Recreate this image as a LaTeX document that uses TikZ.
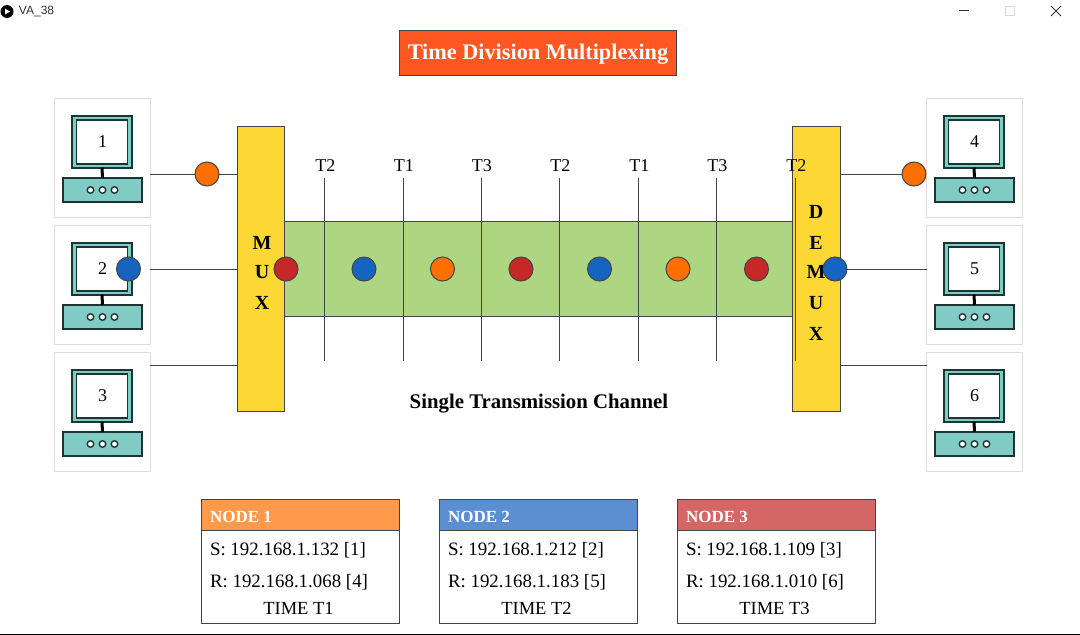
\documentclass[tikz,border=0pt]{standalone}
\usepackage{fontspec}
\setmainfont{Liberation Serif}
\newfontfamily\uifont{Liberation Sans}
\definecolor{cardline}{HTML}{DDDDDD}
\definecolor{teal}{HTML}{80CBC4}
\definecolor{pcline}{HTML}{1B3535}
\definecolor{muxy}{HTML}{FDD835}
\definecolor{chan}{HTML}{AED581}
\definecolor{sigO}{HTML}{FF6F00}
\definecolor{sigB}{HTML}{1565C0}
\definecolor{sigR}{HTML}{C62828}
\definecolor{headO}{HTML}{FF9A4D}
\definecolor{headB}{HTML}{5C8FD2}
\definecolor{headR}{HTML}{D46666}
\definecolor{titleO}{HTML}{FF5722}
\definecolor{edge}{HTML}{444444}
\tikzset{
  x=1pt,y=-1pt,
  every node/.style={inner sep=0pt,outer sep=0pt},
  cardbox/.style={draw=cardline,line width=1pt,fill=white,minimum width=95.5pt,minimum height=118.5pt},
  monitor/.style={draw=pcline,line width=1.9pt,fill=teal,minimum width=60pt,minimum height=52pt},
  screen/.style={draw=pcline,line width=1.9pt,fill=white,minimum width=51pt,minimum height=44pt,font=\fontsize{18}{20}\selectfont},
  base/.style={draw=pcline,line width=1.9pt,fill=teal,minimum width=79.5pt,minimum height=24pt},
  led/.style={draw=pcline,line width=1.4pt,fill=white,circle,minimum size=6.5pt},
  stand/.style={draw=black,line width=3pt},
  wire/.style={draw=edge,line width=1pt},
  muxbar/.style={draw=edge,line width=1pt,fill=muxy,minimum width=47.5pt,minimum height=285pt},
  sig/.style={draw=edge,line width=1pt,circle,minimum size=24pt},
  letter/.style={font=\bfseries\fontsize{20}{22}\selectfont},
  slot/.style={font=\fontsize{18}{20}\selectfont},
  infobox/.style={draw=edge,line width=1pt,fill=white,minimum width=198pt,minimum height=124pt},
  infohead/.style={draw=edge,line width=1pt,minimum width=198pt,minimum height=31pt},
  infohtext/.style={font=\bfseries\fontsize{17}{18}\selectfont,text=white,anchor=west},
  infotext/.style={font=\fontsize{18.9}{20}\selectfont,anchor=west},
  infotime/.style={font=\fontsize{18.5}{20}\selectfont}
}
\newcommand{\pcunit}[4]{% id, label, dx, dy
  \begin{scope}[shift={(#3,#4)}]
    \node[cardbox] (card#1) at (102.5,157.75) {};
    \node[monitor] (mon#1) at (102,141.75) {};
    \node[screen] (scr#1) at (102,141.75) {\hspace*{1pt}#2};
    \node[base] (base#1) at (102.5,189.75) {};
    \draw[stand] (mon#1.south) -- (base#1.north);
    \node[led] (leda#1) at (90.5,190) {};
    \node[led] (ledb#1) at (102.5,190) {};
    \node[led] (ledc#1) at (114.5,190) {};
  \end{scope}}
\newcommand{\infounit}[7]{% id, x centre, colour, title, s, r, time
  \node[infobox] (info#1) at (#2-0.5,561.75) {};
  \node[infohead,fill=#3] (ihead#1) at (#2-0.5,515.25) {};
  \node[infohtext] (ititle#1) at (#2-91,516.5) {#4};
  \node[infotext] (is#1) at (#2-91,550) {#5};
  \node[infotext] (ir#1) at (#2-91,582) {#6};
  \node[infotime] (it#1) at (#2-2.5,608.5) {#7};}
\begin{document}
\begin{tikzpicture}
\useasboundingbox (0,0) rectangle (1080,635);
\fill[white] (0,0) rectangle (1080,635);
% window chrome
\node[circle,fill=black,minimum size=13pt] (appicon) at (7,11.5) {};
\fill[white] (5,8.5) -- (10,11.5) -- (5,14.5) -- cycle;
\node[anchor=west,font=\uifont\fontsize{12}{14}\selectfont,text=black!80] (apptitle) at (19,11.5) {VA\_38};
\draw[black!80,line width=0.9pt] (959,10.5) -- (969,10.5);
\draw[black!15,line width=1pt] (1005,6.5) rectangle (1014,15.5);
\draw[black!80,line width=0.8pt] (1051,6) -- (1061,16) (1051,16) -- (1061,6);
\draw[black,line width=1.4pt] (0,634.5) -- (1080,634.5);
% title
\node[draw=edge,line width=1pt,fill=titleO,minimum width=277pt,minimum height=45pt] (title) at (538.25,53.25) {};
\node[text=white,font=\bfseries\fontsize{22.25}{24}\selectfont] (titletext) at (538,54.5) {Time Division Multiplexing};
% computers
\pcunit{1}{1}{0}{0}
\pcunit{2}{2}{0}{127}
\pcunit{3}{3}{0}{254}
\pcunit{4}{4}{872}{0}
\pcunit{5}{5}{872}{127}
\pcunit{6}{6}{872}{254}
% channel and bars
\node[draw=edge,line width=1pt,fill=chan,minimum width=508pt,minimum height=95pt] (channel) at (538.75,269.25) {};
\node[muxbar] (mux) at (261,269.25) {};
\node[muxbar] (demux) at (816.25,269.25) {};
\foreach \ch/\yy in {M/243,U/272,X/303}{\node[letter] (mux\ch) at (262,\yy) {\ch};}
\foreach \ch/\yy in {D/212,E/243,M/272,U/303,X/334}{\node[letter] (demux\ch) at (816,\yy) {\ch};}
% signal dots
\node[sig,fill=sigO] (d1) at (207,174) {};
\node[sig,fill=sigB] (d2) at (128.5,269) {};
\node[sig,fill=sigO] (d4) at (914,174) {};
\node[sig,fill=sigB] (d5) at (835,269) {};
\coordinate (p3) at (0,365);
% wires
\draw[wire] (card1.east |- d1) -- (d1);
\draw[wire] (d1) -- (mux.west |- d1);
\draw[wire] (card2.east |- d2) -- (mux.west |- d2);
\draw[wire] (card3.east |- p3) -- (mux.west |- p3);
\draw[wire] (demux.east |- d4) -- (d4);
\draw[wire] (d5) -- (card5.west |- d5);
\draw[wire] (demux.east |- p3) -- (card6.west |- p3);
% time slots
\foreach \i/\xx/\lab in {1/324.75/T2,2/403.25/T1,3/481.25/T3,4/559.75/T2,5/638.75/T1,6/716.75/T3,7/795.75/T2}{
  \node[slot] (slot\i) at (\xx+0.5,166) {\lab};
  \coordinate (top\i) at (\xx,178);
  \coordinate (bot\i) at (\xx,361);
  \draw[wire] (top\i) -- (bot\i);
}
\foreach \i/\xx/\cc in {1/286/sigR,2/364/sigB,3/442.5/sigO,4/521/sigR,5/599.5/sigB,6/678/sigO,7/756.5/sigR}{
  \node[sig,fill=\cc] (s\i) at (\xx,269) {};
}
\node[font=\bfseries\fontsize{20.8}{22}\selectfont] (chanlabel) at (539,404) {Single Transmission Channel};
% info panels
\infounit{1}{301}{headO}{NODE 1}{S: 192.168.1.132 [1]}{R: 192.168.1.068 [4]}{TIME T1}
\infounit{2}{539}{headB}{NODE 2}{S: 192.168.1.212 [2]}{R: 192.168.1.183 [5]}{TIME T2}
\infounit{3}{777}{headR}{NODE 3}{S: 192.168.1.109 [3]}{R: 192.168.1.010 [6]}{TIME T3}
\end{tikzpicture}
\end{document}
